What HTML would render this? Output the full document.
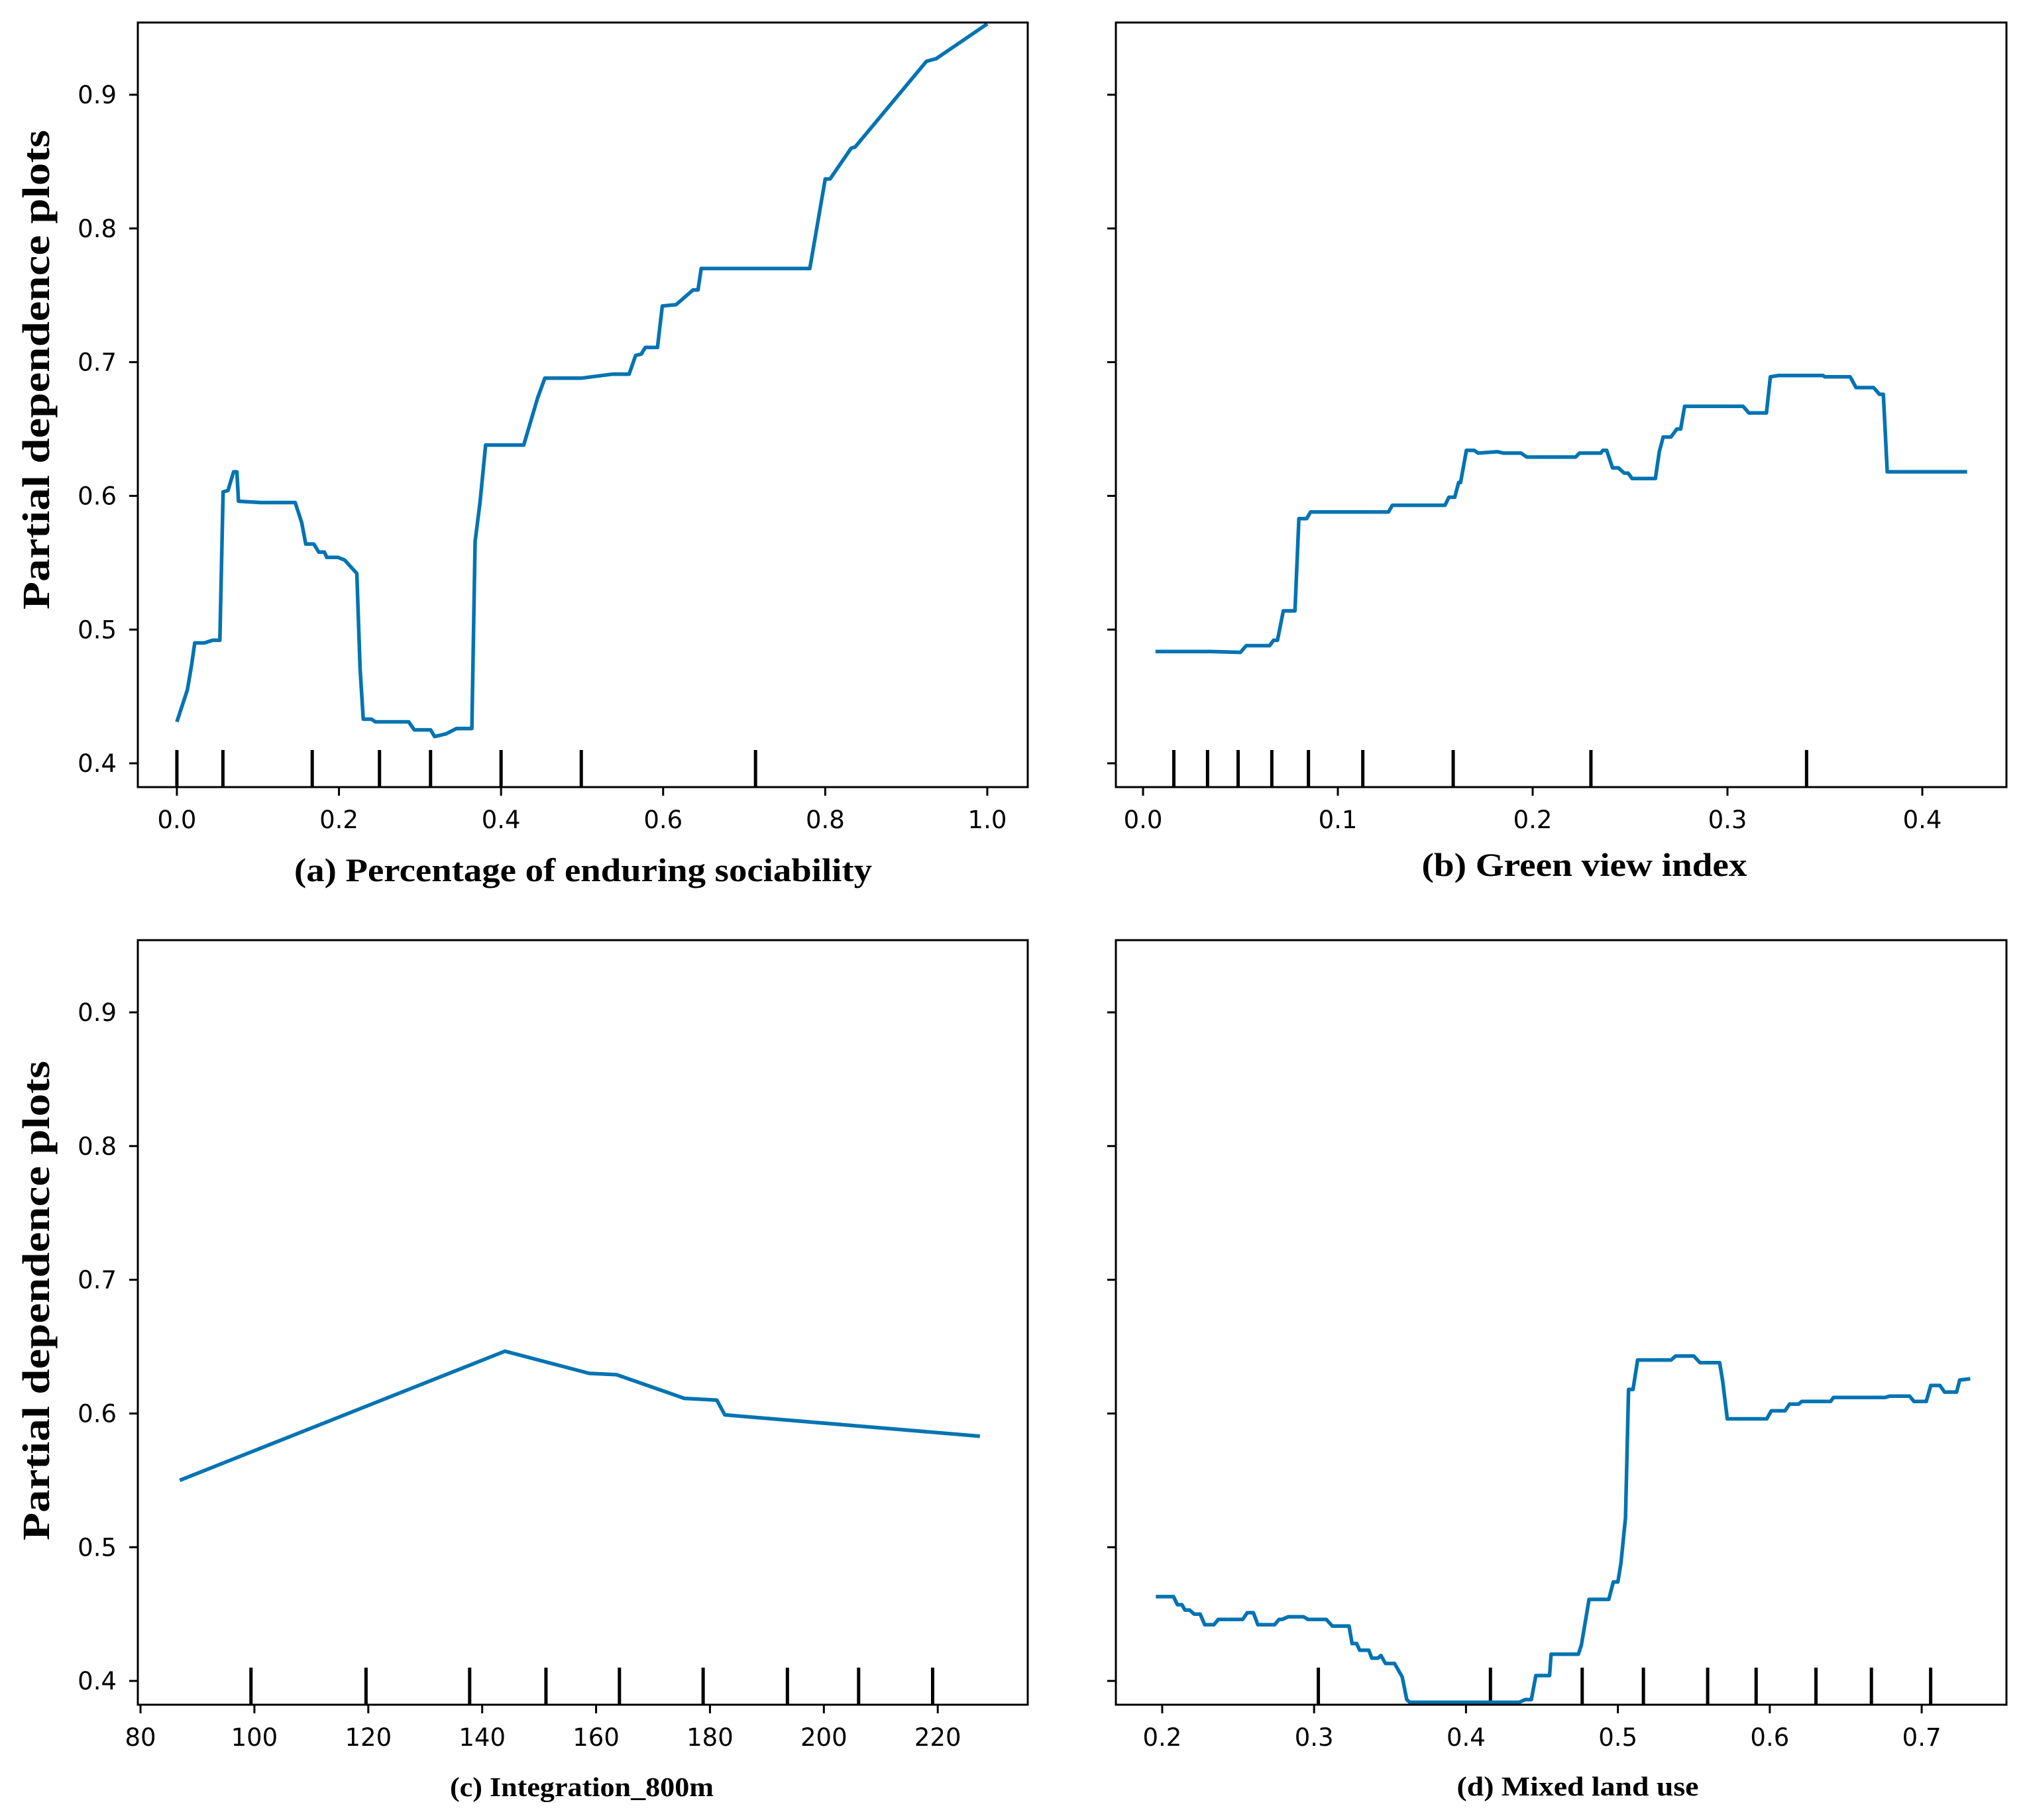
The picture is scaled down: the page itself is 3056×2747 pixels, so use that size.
<!DOCTYPE html>
<html><head><meta charset="utf-8"><style>
html,body{margin:0;padding:0;background:#fff;}
svg{display:block;}
</style></head><body>
<svg id="fig" width="3056" height="2747" viewBox="0 0 3056 2747" xmlns="http://www.w3.org/2000/svg"></svg>
<script>
// Shared y data
const yTicks = [0.4, 0.5, 0.6, 0.7, 0.8, 0.9];
const yTickLabels = ["0.4","0.5","0.6","0.7","0.8","0.9"];

// Panel (a)
const aX = [0,0.013,0.018,0.022,0.034,0.044,0.053,0.057,0.063,0.070,0.074,0.076,0.103,0.146,0.154,0.159,0.169,0.175,0.182,0.185,0.199,0.207,0.222,0.226,0.230,0.240,0.245,0.286,0.293,0.313,0.318,0.332,0.345,0.364,0.368,0.374,0.381,0.428,0.445,0.454,0.499,0.537,0.558,0.566,0.573,0.578,0.593,0.599,0.616,0.637,0.643,0.647,0.781,0.800,0.806,0.832,0.837,0.925,0.937,1.0];
const aY = [0.431,0.455,0.473,0.490,0.490,0.492,0.492,0.603,0.604,0.618,0.618,0.596,0.595,0.595,0.580,0.564,0.564,0.558,0.558,0.554,0.554,0.552,0.542,0.471,0.433,0.433,0.431,0.431,0.425,0.425,0.420,0.422,0.426,0.426,0.566,0.595,0.638,0.638,0.673,0.688,0.688,0.691,0.691,0.705,0.706,0.711,0.711,0.742,0.743,0.754,0.754,0.770,0.770,0.837,0.837,0.860,0.861,0.925,0.927,0.953];
const aRug = [0,0.0568,0.167,0.250,0.313,0.400,0.499,0.714];
const aTicks = [0.0,0.2,0.4,0.6,0.8,1.0];
const aTickLabels = ["0.0","0.2","0.4","0.6","0.8","1.0"];

// Panel (b)
const bX = [0.0064,0.035,0.050,0.053,0.065,0.067,0.069,0.072,0.078,0.080,0.084,0.086,0.126,0.128,0.155,0.157,0.160,0.162,0.163,0.166,0.170,0.172,0.182,0.185,0.194,0.197,0.222,0.224,0.235,0.236,0.238,0.241,0.244,0.247,0.249,0.251,0.263,0.265,0.267,0.271,0.274,0.276,0.278,0.308,0.311,0.320,0.322,0.326,0.349,0.350,0.363,0.366,0.375,0.378,0.380,0.382,0.423];
const bY = [0.4836,0.4836,0.483,0.488,0.488,0.492,0.492,0.514,0.514,0.583,0.583,0.588,0.588,0.593,0.593,0.599,0.599,0.610,0.610,0.634,0.634,0.632,0.633,0.632,0.632,0.629,0.629,0.632,0.632,0.634,0.634,0.621,0.621,0.617,0.617,0.613,0.613,0.633,0.644,0.644,0.650,0.650,0.667,0.667,0.662,0.662,0.689,0.690,0.690,0.689,0.689,0.681,0.681,0.676,0.676,0.618,0.618];
const bRug = [0.0158,0.0331,0.0488,0.0661,0.0849,0.1128,0.1592,0.2299,0.3406];
const bTicks = [0.0,0.1,0.2,0.3,0.4];
const bTickLabels = ["0.0","0.1","0.2","0.3","0.4"];

// Panel (c)
const cX = [86.9,144.0,158.8,163.6,175.5,181.2,182.6,227.4];
const cY = [0.550,0.6466,0.630,0.629,0.6113,0.610,0.599,0.583];
const cRug = [99.4,119.6,137.8,151.2,164.1,178.8,193.6,206.1,219.1];
const cTicks = [80,100,120,140,160,180,200,220];
const cTickLabels = ["80","100","120","140","160","180","200","220"];

// Panel (d)
const dX = [0.1958,0.2075,0.210,0.213,0.215,0.218,0.221,0.225,0.228,0.234,0.237,0.253,0.256,0.260,0.263,0.274,0.277,0.279,0.283,0.293,0.296,0.308,0.312,0.323,0.325,0.328,0.330,0.336,0.338,0.342,0.344,0.347,0.353,0.358,0.361,0.363,0.435,0.439,0.443,0.446,0.455,0.456,0.474,0.476,0.481,0.494,0.497,0.500,0.502,0.505,0.507,0.510,0.513,0.535,0.538,0.550,0.554,0.567,0.569,0.572,0.598,0.601,0.610,0.613,0.619,0.621,0.640,0.642,0.676,0.679,0.692,0.695,0.703,0.706,0.712,0.715,0.723,0.725,0.732];
const dY = [0.463,0.463,0.457,0.457,0.453,0.453,0.450,0.450,0.442,0.442,0.446,0.446,0.451,0.451,0.442,0.442,0.446,0.446,0.448,0.448,0.446,0.446,0.441,0.441,0.428,0.428,0.423,0.423,0.417,0.417,0.419,0.413,0.413,0.403,0.386,0.384,0.384,0.386,0.386,0.404,0.404,0.420,0.420,0.427,0.461,0.461,0.474,0.474,0.488,0.522,0.618,0.618,0.640,0.640,0.643,0.643,0.638,0.638,0.624,0.596,0.596,0.602,0.602,0.607,0.607,0.609,0.609,0.612,0.612,0.613,0.613,0.609,0.609,0.621,0.621,0.616,0.616,0.625,0.626];
const dRug = [0.3028,0.4161,0.4765,0.5168,0.5591,0.5910,0.6304,0.6669,0.7059];
const dTicks = [0.2,0.3,0.4,0.5,0.6,0.7];
const dTickLabels = ["0.2","0.3","0.4","0.5","0.6","0.7"];

const NS = "http://www.w3.org/2000/svg";
const svg = document.getElementById("fig");
const BLUE = "#0173b2";
const Y0 = 0.3822, Y1 = 0.954;

function mk(tag, parent) { const e = document.createElementNS(NS, tag); parent.appendChild(e); return e; }

function panel(cfg) {
  const g = mk("g", svg);
  
  
  const sx = v => cfg.left + (v - cfg.xmin) / (cfg.xmax - cfg.xmin) * (cfg.right - cfg.left);
  const sy = v => cfg.bottom - (v - Y0) / (Y1 - Y0) * (cfg.bottom - cfg.top);

  cfg.rug.forEach(v => {
    const l = mk("line", g);
    
    
    l.setAttribute("x1", sx(v)); l.setAttribute("x2", sx(v));
    l.setAttribute("y1", cfg.bottom); l.setAttribute("y2", cfg.bottom - 56);
    l.setAttribute("stroke", "#000"); l.setAttribute("stroke-width", "5");
  });

  const p = mk("polyline", g);
  
  
  p.setAttribute("points", cfg.xs.map((x, i) => sx(x).toFixed(1) + "," + sy(cfg.ys[i]).toFixed(1)).join(" "));
  p.setAttribute("fill", "none"); p.setAttribute("stroke", BLUE); p.setAttribute("stroke-width", "5.5");
  p.setAttribute("stroke-linejoin", "round");

  const r = mk("rect", g);
  
  
  r.setAttribute("x", cfg.left); r.setAttribute("y", cfg.top);
  r.setAttribute("width", cfg.right - cfg.left); r.setAttribute("height", cfg.bottom - cfg.top);
  r.setAttribute("fill", "none"); r.setAttribute("stroke", "#000"); r.setAttribute("stroke-width", "3");

  cfg.ticks.forEach((v, i) => {
    const t = mk("line", g);
    
    
    t.setAttribute("x1", sx(v)); t.setAttribute("x2", sx(v));
    t.setAttribute("y1", cfg.bottom); t.setAttribute("y2", cfg.bottom + 13);
    t.setAttribute("stroke", "#000"); t.setAttribute("stroke-width", "3");
    const tx = mk("text", g);
    
    
    tx.setAttribute("x", sx(v)); tx.setAttribute("y", cfg.bottom + 62);
    tx.setAttribute("text-anchor", "middle");
    tx.setAttribute("font-family", "DejaVu Sans, sans-serif");
    tx.setAttribute("font-size", "37");
    tx.textContent = cfg.tickLabels[i];
  });

  yTicks.forEach((v, i) => {
    const t = mk("line", g);
    
    
    t.setAttribute("x1", cfg.left); t.setAttribute("x2", cfg.left - 13);
    t.setAttribute("y1", sy(v)); t.setAttribute("y2", sy(v));
    t.setAttribute("stroke", "#000"); t.setAttribute("stroke-width", "3");
    if (cfg.yLabels) {
      const tx = mk("text", g);
      
      
      tx.setAttribute("x", cfg.left - 32); tx.setAttribute("y", sy(v) + 13);
      tx.setAttribute("text-anchor", "end");
      tx.setAttribute("font-family", "DejaVu Sans, sans-serif");
      tx.setAttribute("font-size", "37");
      tx.textContent = yTickLabels[i];
    }
  });

  const xt = mk("text", g);
  
  
  xt.setAttribute("x", cfg.titleX); xt.setAttribute("y", cfg.titleY);
  xt.setAttribute("text-anchor", "middle");
  xt.setAttribute("font-family", "Liberation Serif, serif");
  xt.setAttribute("font-weight", "bold");
  xt.setAttribute("font-size", cfg.titleSize);
  xt.setAttribute("textLength", cfg.titleLen);
  xt.setAttribute("lengthAdjust", "spacingAndGlyphs");
  xt.textContent = cfg.title;

  if (cfg.yLabels) {
    const cy = cfg.yTitleCenter;
    const yt = mk("text", g);
    
    
    yt.setAttribute("x", 0); yt.setAttribute("y", 0);
    yt.setAttribute("transform", "translate(74," + cy + ") rotate(-90)");
    yt.setAttribute("text-anchor", "middle");
    yt.setAttribute("font-family", "Liberation Serif, serif");
    yt.setAttribute("font-weight", "bold");
    yt.setAttribute("font-size", "58");
    yt.setAttribute("textLength", "724");
    yt.setAttribute("lengthAdjust", "spacingAndGlyphs");
    yt.textContent = "Partial dependence plots";
  }
}

panel({name:"panel-a", left:208, right:1551, top:34, bottom:1188, xmin:-0.0482, xmax:1.0499,
  xs:aX, ys:aY, rug:aRug, ticks:aTicks, tickLabels:aTickLabels, yLabels:true, yTitleCenter:558,
  title:"(a) Percentage of enduring sociability", titleX:880, titleY:1330, titleSize:50, titleLen:872});
panel({name:"panel-b", left:1684, right:3028, top:34, bottom:1188, xmin:-0.01395, xmax:0.4432,
  xs:bX, ys:bY, rug:bRug, ticks:bTicks, tickLabels:bTickLabels, yLabels:false,
  title:"(b) Green view index", titleX:2391, titleY:1322, titleSize:50, titleLen:491});
panel({name:"panel-c", left:208, right:1551, top:1419, bottom:2573, xmin:79.53, xmax:235.8,
  xs:cX, ys:cY, rug:cRug, ticks:cTicks, tickLabels:cTickLabels, yLabels:true, yTitleCenter:1963,
  title:"(c) Integration_800m", titleX:878, titleY:2711, titleSize:41, titleLen:398});
panel({name:"panel-d", left:1684, right:3028, top:1419, bottom:2573, xmin:0.1695, xmax:0.7558,
  xs:dX, ys:dY, rug:dRug, ticks:dTicks, tickLabels:dTickLabels, yLabels:false,
  title:"(d) Mixed land use", titleX:2381, titleY:2710, titleSize:41, titleLen:365});
</script>
</body></html>
